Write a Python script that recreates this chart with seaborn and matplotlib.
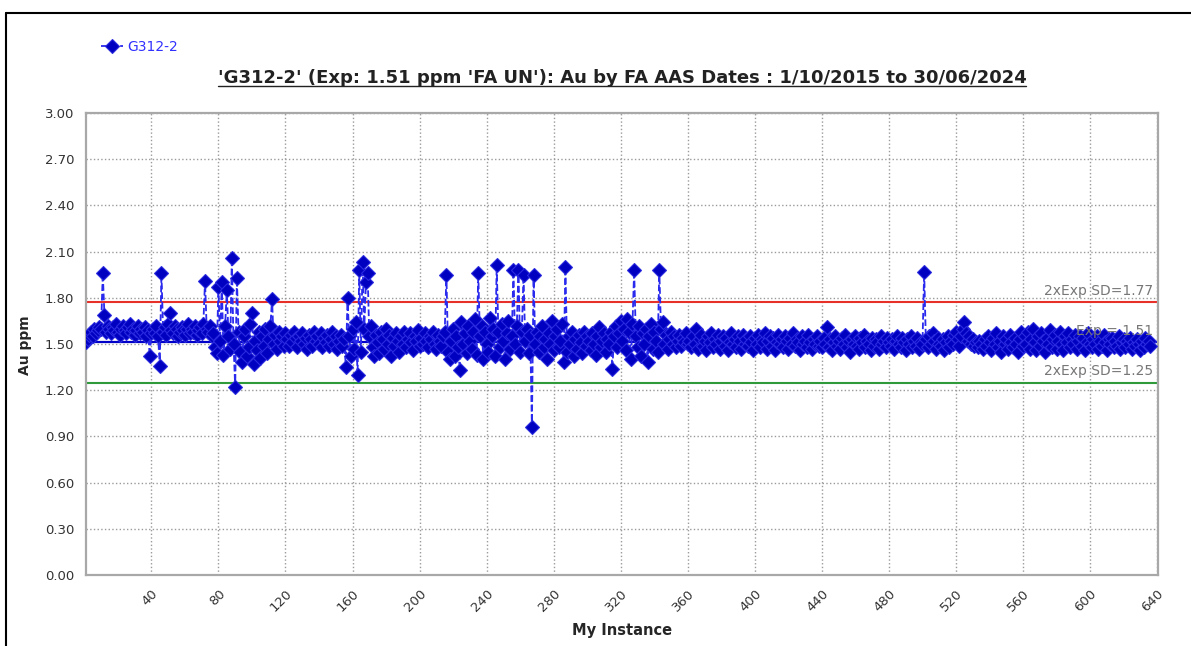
import numpy as np
import pandas as pd
import matplotlib
matplotlib.use('Agg')
import matplotlib.pyplot as plt
from matplotlib.lines import Line2D
import seaborn as sns

sns.set_style('white')
plt.rcParams['font.family'] = ['DejaVu Sans']

# Au ppm per instance in blocks of 40
au_001_040 = [1.51, 1.53, 1.56, 1.58, 1.55, 1.60, 1.57, 1.59, 1.61, 1.60, 1.96, 1.69, 1.58, 1.62, 1.60, 1.57, 1.61, 1.59, 1.63, 1.58,
              1.56, 1.60, 1.62, 1.59, 1.57, 1.61, 1.63, 1.58, 1.60, 1.56, 1.59, 1.62, 1.57, 1.60, 1.58, 1.61, 1.55, 1.59, 1.42, 1.57]
au_041_080 = [1.60, 1.57, 1.62, 1.55, 1.36, 1.96, 1.58, 1.61, 1.56, 1.63, 1.70, 1.59, 1.57, 1.62, 1.60, 1.55, 1.58, 1.61, 1.59, 1.56,
              1.60, 1.63, 1.57, 1.60, 1.58, 1.62, 1.56, 1.59, 1.61, 1.57, 1.63, 1.91, 1.60, 1.58, 1.62, 1.55, 1.57, 1.48, 1.44, 1.87]
au_081_120 = [1.52, 1.90, 1.43, 1.62, 1.85, 1.55, 1.47, 2.06, 1.50, 1.22, 1.93, 1.58, 1.45, 1.38, 1.55, 1.60, 1.42, 1.48, 1.63, 1.70,
              1.37, 1.52, 1.46, 1.58, 1.41, 1.55, 1.49, 1.60, 1.44, 1.53, 1.62, 1.79, 1.50, 1.56, 1.47, 1.58, 1.52, 1.55, 1.49, 1.57]
au_121_160 = [1.53, 1.49, 1.56, 1.51, 1.58, 1.54, 1.48, 1.55, 1.52, 1.57, 1.50, 1.54, 1.47, 1.56, 1.53, 1.49, 1.58, 1.52, 1.55, 1.50,
              1.57, 1.48, 1.54, 1.51, 1.56, 1.49, 1.53, 1.58, 1.50, 1.55, 1.47, 1.52, 1.56, 1.49, 1.53, 1.35, 1.80, 1.55, 1.42, 1.60]
au_161_200 = [1.47, 1.64, 1.30, 1.98, 1.45, 2.03, 1.60, 1.90, 1.96, 1.55, 1.62, 1.48, 1.42, 1.56, 1.51, 1.44, 1.58, 1.53, 1.47, 1.60,
              1.50, 1.56, 1.42, 1.54, 1.49, 1.57, 1.52, 1.45, 1.55, 1.50, 1.58, 1.48, 1.53, 1.57, 1.51, 1.46, 1.55, 1.52, 1.59, 1.49]
au_201_240 = [1.54, 1.50, 1.57, 1.52, 1.48, 1.55, 1.53, 1.58, 1.50, 1.47, 1.56, 1.52, 1.49, 1.55, 1.58, 1.95, 1.45, 1.40, 1.52, 1.60,
              1.42, 1.55, 1.48, 1.33, 1.64, 1.50, 1.57, 1.44, 1.62, 1.52, 1.47, 1.58, 1.66, 1.43, 1.96, 1.55, 1.62, 1.40, 1.58, 1.50]
au_241_280 = [1.45, 1.67, 1.55, 1.60, 1.42, 2.01, 1.58, 1.48, 1.63, 1.52, 1.40, 1.57, 1.65, 1.47, 1.55, 1.98, 1.50, 1.62, 1.98, 1.45,
              1.58, 1.95, 1.52, 1.60, 1.44, 1.56, 0.96, 1.95, 1.50, 1.58, 1.45, 1.55, 1.62, 1.48, 1.53, 1.40, 1.57, 1.50, 1.65, 1.46]
au_281_320 = [1.55, 1.60, 1.48, 1.52, 1.63, 1.38, 2.00, 1.45, 1.55, 1.50, 1.58, 1.42, 1.53, 1.47, 1.56, 1.51, 1.44, 1.58, 1.49, 1.55,
              1.52, 1.46, 1.57, 1.50, 1.43, 1.55, 1.61, 1.48, 1.52, 1.57, 1.45, 1.53, 1.50, 1.58, 1.34, 1.55, 1.62, 1.48, 1.57, 1.65]
au_321_360 = [1.52, 1.60, 1.46, 1.66, 1.58, 1.40, 1.63, 1.98, 1.55, 1.48, 1.62, 1.42, 1.57, 1.50, 1.60, 1.38, 1.55, 1.63, 1.47, 1.58,
              1.52, 1.45, 1.98, 1.60, 1.64, 1.50, 1.56, 1.47, 1.53, 1.58, 1.50, 1.55, 1.48, 1.52, 1.56, 1.49, 1.54, 1.51, 1.57, 1.50]
au_361_400 = [1.52, 1.48, 1.55, 1.50, 1.60, 1.47, 1.53, 1.56, 1.49, 1.52, 1.46, 1.55, 1.51, 1.57, 1.48, 1.53, 1.50, 1.56, 1.47, 1.52,
              1.55, 1.49, 1.54, 1.46, 1.51, 1.57, 1.50, 1.53, 1.48, 1.55, 1.52, 1.47, 1.56, 1.50, 1.53, 1.49, 1.55, 1.51, 1.46, 1.54]
au_401_440 = [1.50, 1.56, 1.48, 1.53, 1.51, 1.57, 1.47, 1.52, 1.55, 1.49, 1.54, 1.46, 1.51, 1.56, 1.50, 1.53, 1.48, 1.55, 1.52, 1.47,
              1.54, 1.50, 1.57, 1.49, 1.53, 1.51, 1.46, 1.55, 1.50, 1.52, 1.48, 1.56, 1.51, 1.47, 1.53, 1.50, 1.55, 1.49, 1.52, 1.48]
au_441_480 = [1.54, 1.50, 1.61, 1.48, 1.53, 1.46, 1.51, 1.55, 1.49, 1.52, 1.47, 1.54, 1.50, 1.56, 1.48, 1.52, 1.45, 1.53, 1.50, 1.55,
              1.49, 1.47, 1.54, 1.51, 1.56, 1.48, 1.52, 1.50, 1.46, 1.54, 1.49, 1.53, 1.51, 1.47, 1.55, 1.50, 1.52, 1.48, 1.54, 1.51]
au_481_520 = [1.49, 1.53, 1.47, 1.52, 1.55, 1.50, 1.48, 1.54, 1.51, 1.46, 1.53, 1.50, 1.55, 1.48, 1.52, 1.49, 1.54, 1.47, 1.51, 1.50,
              1.97, 1.53, 1.48, 1.55, 1.50, 1.57, 1.52, 1.47, 1.54, 1.50, 1.49, 1.53, 1.46, 1.51, 1.55, 1.48, 1.52, 1.50, 1.56, 1.58]
au_521_560 = [1.53, 1.49, 1.55, 1.60, 1.64, 1.57, 1.52, 1.55, 1.50, 1.53, 1.49, 1.51, 1.48, 1.52, 1.50, 1.47, 1.53, 1.49, 1.55, 1.51,
              1.46, 1.54, 1.50, 1.57, 1.48, 1.52, 1.45, 1.55, 1.50, 1.53, 1.47, 1.56, 1.51, 1.48, 1.54, 1.50, 1.45, 1.53, 1.58, 1.49]
au_561_600 = [1.55, 1.50, 1.58, 1.47, 1.53, 1.60, 1.51, 1.46, 1.55, 1.49, 1.57, 1.52, 1.45, 1.54, 1.50, 1.59, 1.48, 1.53, 1.56, 1.47,
              1.52, 1.58, 1.50, 1.46, 1.55, 1.51, 1.57, 1.48, 1.53, 1.50, 1.56, 1.47, 1.52, 1.55, 1.49, 1.54, 1.46, 1.51, 1.57, 1.50]
au_601_636 = [1.48, 1.53, 1.50, 1.55, 1.47, 1.52, 1.49, 1.56, 1.51, 1.46, 1.53, 1.50, 1.54, 1.48, 1.52, 1.49, 1.55, 1.47, 1.51, 1.53,
              1.48, 1.52, 1.50, 1.54, 1.47, 1.51, 1.49, 1.53, 1.50, 1.46, 1.52, 1.48, 1.54, 1.50, 1.52, 1.49]

exp_value = 1.51
sd_high = 1.77
sd_low = 1.25
x_ticks = list(range(40, 641, 40))
y_ticks = [0.0, 0.3, 0.6, 0.9, 1.2, 1.5, 1.8, 2.1, 2.4, 2.7, 3.0]

au = (au_001_040 + au_041_080 + au_081_120 + au_121_160 + au_161_200 + au_201_240 + au_241_280 + au_281_320
      + au_321_360 + au_361_400 + au_401_440 + au_441_480 + au_481_520 + au_521_560 + au_561_600 + au_601_636)
df = pd.DataFrame({'instance': np.arange(1, len(au) + 1), 'au': au})

W, H = 1191, 646
fig = plt.figure(figsize=(W / 100, H / 100), dpi=100)
ax = fig.add_axes([86 / W, 1 - 575 / H, (1158 - 86) / W, (575 - 113) / H])

blue = '#0000c8'
ax.axhline(exp_value, color=blue, lw=1.6, zorder=1)
ax.axhline(sd_high, color='#e8302a', lw=1.5, zorder=1)
ax.axhline(sd_low, color='#2e9a3a', lw=1.5, zorder=1)

sns.lineplot(data=df, x='instance', y='au', ax=ax, estimator=None, color='#2a2aee', label='G312-2',
             linestyle='--', linewidth=1.3, marker='D', markersize=7.5,
             markerfacecolor='#0000c0', markeredgecolor='#2a2ae0', markeredgewidth=0.8, zorder=3)

ax.set_xlim(1, 640.5)
ax.set_ylim(0, 3)
ax.set_xticks(x_ticks)
ax.set_yticks(y_ticks)
ax.set_yticklabels([f'{v:.2f}' for v in y_ticks])
ax.grid(True, linestyle=':', color='#9a9a9a', linewidth=1)
for s in ax.spines.values():
    s.set_color('#a8a8a8')
    s.set_linewidth(1.6)
ax.tick_params(axis='both', length=5, color='#bbbbbb', labelsize=9.5, labelcolor='#333333')
plt.setp(ax.get_xticklabels(), rotation=45, ha='right', rotation_mode='anchor')
ax.set_xlabel('')
ax.set_ylabel('')

tr = ax.get_yaxis_transform()
ax.text(0.995, 1.80, f'2xExp SD={sd_high:.2f}', transform=tr, ha='right', va='bottom', color='#777777', fontsize=10)
ax.text(0.995, 1.28, f'2xExp SD={sd_low:.2f}', transform=tr, ha='right', va='bottom', color='#777777', fontsize=10)
ax.text(0.995, 1.54, f'Exp = {exp_value:.2f}', transform=tr, ha='right', va='bottom', color='#777777', fontsize=10, zorder=4)

leg = ax.legend(loc='center left', bbox_to_anchor=(88 / W, 1 - 47 / H), bbox_transform=fig.transFigure,
                frameon=False, handlelength=1.6, handletextpad=0.3, fontsize=10)
for t in leg.get_texts():
    t.set_color('#3030ff')

title = fig.text(622 / W, 1 - 78 / H,
                 "'G312-2' (Exp: 1.51 ppm 'FA UN'): Au by FA AAS Dates : 1/10/2015 to 30/06/2024",
                 ha='center', va='center', fontsize=13, fontweight='bold', color='#222222')
fig.text(25 / W, 1 - 345 / H, 'Au ppm', rotation=90, ha='center', va='center', fontsize=10, fontweight='bold')
fig.text(622 / W, 1 - 631 / H, 'My Instance', ha='center', va='center', fontsize=10.5, fontweight='bold')

# underline under the title
fig.canvas.draw()
bb = title.get_window_extent()
fig.add_artist(Line2D([bb.x0 / W, bb.x1 / W], [(bb.y0 + 1) / H] * 2, transform=fig.transFigure,
                      color='#222222', lw=1))

# outer frame (top and left edges)
fig.add_artist(Line2D([6 / W, 1], [1 - 13 / H] * 2, transform=fig.transFigure, color='black', lw=1.5))
fig.add_artist(Line2D([6 / W] * 2, [0, 1 - 13 / H], transform=fig.transFigure, color='black', lw=1.5))

fig.savefig('out.png', dpi=100)
